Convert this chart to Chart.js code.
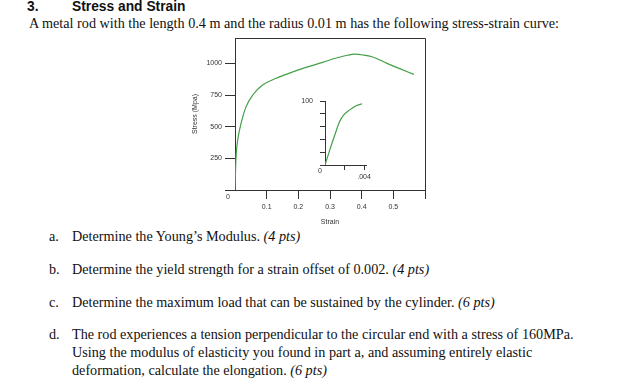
<!DOCTYPE html>
<html>
<head>
<meta charset="utf-8">
<script src="https://cdn.jsdelivr.net/npm/chart.js@4.4.0/dist/chart.umd.min.js"></script>
<style>
body { margin: 0; background: #fff; width: 630px; height: 383px; position: relative; overflow: hidden; }
.t { position: absolute; white-space: nowrap; color: #111; }
.serif { font-family: "Liberation Serif", "Times New Roman", serif; font-size: 14.2px; line-height: 16px; }
.head { font-family: "Liberation Sans", Arial, sans-serif; font-weight: bold; font-size: 13.8px; line-height: 16px; }
canvas { position: absolute; }
</style>
</head>
<body>
<div class="t head" style="left:27px;top:-1px">3.</div>
<div class="t head" style="left:72px;top:-1px">Stress and Strain</div>
<div class="t serif" style="left:29px;top:15px">A metal rod with the length 0.4 m and the radius 0.01 m has the following stress-strain curve:</div>

<div class="t serif" style="left:49px;top:228px">a.</div>
<div class="t serif" style="left:72px;top:228px">Determine the Young’s Modulus. <i>(4 pts)</i></div>
<div class="t serif" style="left:49px;top:261px">b.</div>
<div class="t serif" style="left:72px;top:261px">Determine the yield strength for a strain offset of 0.002. <i>(4 pts)</i></div>
<div class="t serif" style="left:49px;top:294px">c.</div>
<div class="t serif" style="left:72px;top:294px">Determine the maximum load that can be sustained by the cylinder. <i>(6 pts)</i></div>
<div class="t serif" style="left:49px;top:326px">d.</div>
<div class="t serif" style="left:72px;top:326px">The rod experiences a tension perpendicular to the circular end with a stress of 160MPa.</div>
<div class="t serif" style="left:72px;top:344px">Using the modulus of elasticity you found in part a, and assuming entirely elastic</div>
<div class="t serif" style="left:72px;top:362px">deformation, calculate the elongation. <i>(6 pts)</i></div>

<canvas id="mainChart" width="270" height="205" style="left:170px;top:30px"></canvas>
<canvas id="insetChart" width="90" height="95" style="left:290px;top:90px"></canvas>

<script>
// main curve (strain, stress in MPa)
const strain = [0, 0.002, 0.004, 0.0085, 0.019, 0.035, 0.056, 0.087, 0.13, 0.17, 0.224, 0.277, 0.323, 0.355, 0.378, 0.405, 0.433, 0.48, 0.52, 0.565];
const stress = [0, 180, 290, 395, 526, 658, 750, 829, 882, 921, 968, 1008, 1044, 1064, 1072, 1066, 1052, 1000, 958, 913];

// inset: zoom of the elastic region
const insetStrain = [0, 0.0005, 0.001, 0.0015, 0.0019, 0.0025, 0.0032, 0.0038];
const insetStress = [0, 24, 47, 68, 78, 86, 93, 96];

const xTicks = [0.1, 0.2, 0.3, 0.4, 0.5, 0.6];
const xTickLabels = ['0.1', '0.2', '0.3', '0.4', '0.5', ''];
const yTicks = [0, 250, 500, 750, 1000];
const yTickLabels = ['', '250', '500', '750', '1000'];
const insetXTicks = [0.002, 0.004];
const insetXTickLabels = ['', '.004'];
const insetYTicks = [0, 20, 40, 60, 80, 100];
const insetYTickLabels = ['', '', '', '', '', '100'];

const axisColor = '#333';
const lineColor = '#43a047';
const smallFont = { family: '"Liberation Sans", Arial, sans-serif', size: 7, lineHeight: 1.2 };

// top + right edge of the box, and the "0" at the corner
const framePlugin = {
    id: 'frame',
    afterDraw(chart, args, opts) {
        const ctx = chart.ctx;
        const a = chart.chartArea;
        const x0 = chart.scales.x.getPixelForValue(0);
        const y0 = chart.scales.y.getPixelForValue(0);
        ctx.save();
        ctx.strokeStyle = axisColor;
        ctx.lineWidth = 1;
        if (opts.box) {
            ctx.beginPath();
            ctx.moveTo(a.left, a.top + 0.5);
            ctx.lineTo(a.right + 0.5, a.top + 0.5);
            ctx.lineTo(a.right + 0.5, a.bottom);
            ctx.stroke();
        }
        ctx.fillStyle = axisColor;
        ctx.font = '7px "Liberation Sans", Arial, sans-serif';
        ctx.textAlign = 'center';
        ctx.textBaseline = 'middle';
        ctx.fillText('0', x0 + opts.zeroDx, y0 + opts.zeroDy);
        ctx.restore();
    }
};

function makeScale(ticks, labels, min, max, tickLen, pad, fitKey, fitSize) {
    return {
        type: 'linear',
        min: min,
        max: max,
        afterBuildTicks: scale => { scale.ticks = ticks.map(v => ({ value: v })); },
        afterFit: scale => { scale[fitKey] = fitSize; },
        grid: { display: true, drawOnChartArea: false, drawTicks: true, tickLength: tickLen, color: axisColor, lineWidth: 1 },
        border: { display: true, color: axisColor, width: 1 },
        ticks: {
            autoSkip: false,
            maxRotation: 0,
            padding: pad,
            color: axisColor,
            font: smallFont,
            callback: (value, index) => labels[index]
        }
    };
}

const mainX = makeScale(xTicks, xTickLabels, 0, 0.6, 9, 4, 'height', 45);
mainX.title = { display: true, text: 'Strain', color: axisColor, font: smallFont, padding: { top: 0, bottom: 9 } };
const mainY = makeScale(yTicks, yTickLabels, 0, 1200, 10, 3, 'width', 65);
mainY.title = { display: true, text: 'Stress (Mpa)', color: axisColor, font: smallFont, padding: { top: 21, bottom: 0 } };

new Chart(document.getElementById('mainChart'), {
    type: 'line',
    data: {
        datasets: [{
            data: strain.map((s, i) => ({ x: s, y: stress[i] })),
            borderColor: lineColor,
            borderWidth: 1.2,
            pointRadius: 0,
            cubicInterpolationMode: 'monotone',
            fill: false
        }]
    },
    options: {
        responsive: false,
        animation: false,
        layout: { padding: { top: 8, right: 15, left: 0, bottom: 0 } },
        plugins: { legend: { display: false }, tooltip: { enabled: false }, frame: { box: true, zeroDx: -7, zeroDy: 7 } },
        scales: { x: mainX, y: mainY }
    },
    plugins: [framePlugin]
});

new Chart(document.getElementById('insetChart'), {
    type: 'line',
    data: {
        datasets: [{
            data: insetStrain.map((s, i) => ({ x: s, y: insetStress[i] })),
            borderColor: lineColor,
            borderWidth: 1.2,
            pointRadius: 0,
            cubicInterpolationMode: 'monotone',
            fill: false
        }]
    },
    options: {
        responsive: false,
        animation: false,
        layout: { padding: { top: 8, right: 14, left: 0, bottom: 0 } },
        plugins: { legend: { display: false }, tooltip: { enabled: false }, frame: { box: false, zeroDx: -5, zeroDy: 6 } },
        scales: {
            x: makeScale(insetXTicks, insetXTickLabels, 0, 0.0042, 5, 3, 'height', 20),
            y: makeScale(insetYTicks, insetYTickLabels, 0, 100, 5, 7, 'width', 35)
        }
    },
    plugins: [framePlugin]
});
</script>
</body>
</html>
